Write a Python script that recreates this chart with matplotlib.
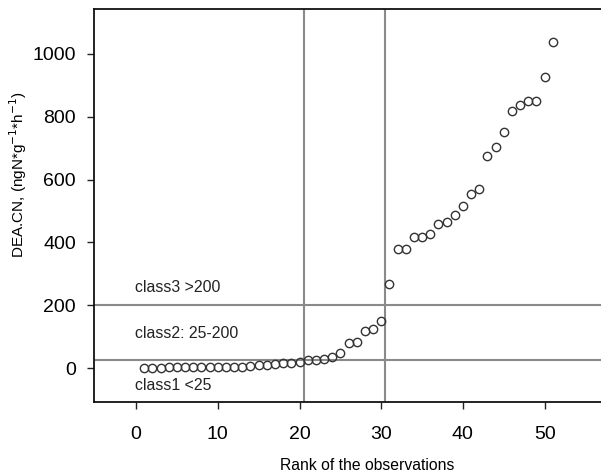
import matplotlib.pyplot as plt
import numpy as np

plt.rcParams['font.family'] = ['Liberation Sans', 'DejaVu Sans']

# DEA.CN values sorted by rank
rank = np.arange(1, 52)
dea_cn = [1, 1, 1, 2, 2, 2, 3, 3, 3, 4,
          4, 5, 5, 7, 9, 11, 13, 15, 17, 19,
          25, 25, 30, 35, 48, 79, 83, 119, 124, 150,
          267, 379, 379, 416, 416, 427, 459, 466, 486, 517,
          555, 570, 675, 705, 752, 818, 838, 851, 851, 925,
          1039]

class_limits = [25, 200]
rank_breaks = [20.5, 30.5]
class_labels = ['class3 >200', 'class2: 25-200', 'class1 <25']
class_label_y = [256, 111, -54]

fig = plt.figure(figsize=(6.01, 4.74), dpi=100)
ax = fig.add_axes([94 / 601, 72 / 474, (610 - 94) / 601, (402 - 9) / 474])

for v in class_limits:
    ax.axhline(v, color='#8a8a8a', lw=1.5, zorder=1)
for v in rank_breaks:
    ax.axvline(v, color='#8a8a8a', lw=1.5, zorder=1)

ax.plot(rank, dea_cn, 'o', mfc='none', mec='#333333', ms=6, mew=1.0, zorder=3)

for lab, yv in zip(class_labels, class_label_y):
    ax.text(-0.1, yv, lab, fontsize=11.4, color='#222222', va='center', ha='left')

ax.set_xlim(-5.15, 58)
ax.set_ylim(-108, 1143)
ax.set_xticks([0, 10, 20, 30, 40, 50])
ax.set_yticks([0, 200, 400, 600, 800, 1000])
ax.tick_params(labelsize=14, length=5, width=1, color='#222222', pad=8)
ax.tick_params(axis='x', pad=12)
for s in ax.spines.values():
    s.set_linewidth(1.3)
    s.set_color('#111111')

fig.text(367 / 601, 1 - 465 / 474, 'Rank of the observations',
         fontsize=11.3, ha='center', va='center')
fig.text(18 / 601, 1 - 175 / 474, 'DEA.CN, (ngN*g$^{-1}$*h$^{-1}$)',
         fontsize=11, rotation=90, ha='center', va='center')

fig.savefig('out.png', dpi=100)
